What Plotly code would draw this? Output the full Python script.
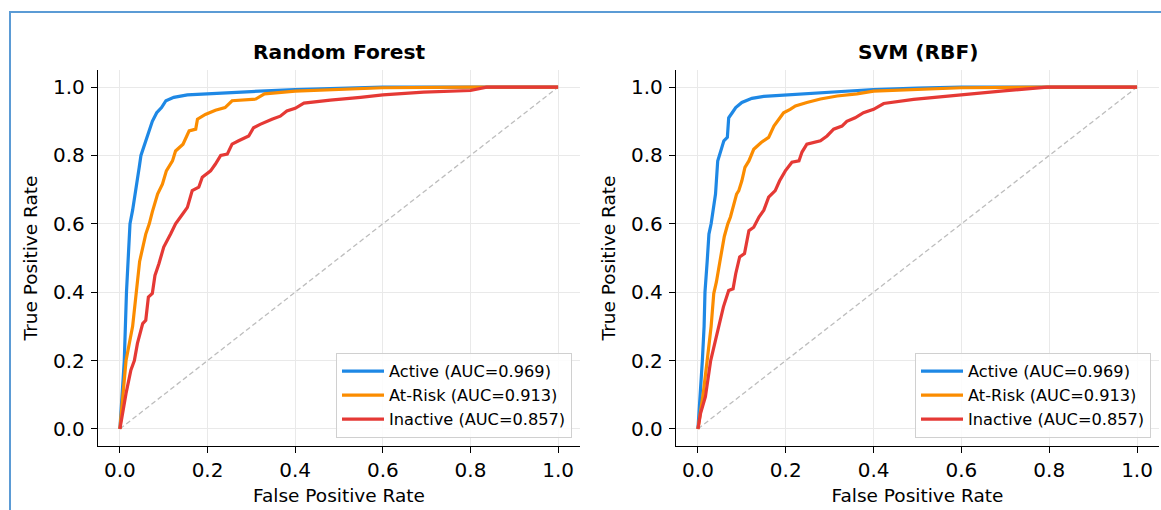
import plotly.graph_objects as go

# ---------------- data ----------------
classes = ["Active", "At-Risk", "Inactive"]
auc_values = [0.969, 0.913, 0.857]
model_titles = ["Random Forest", "SVM (RBF)"]
tick_vals = [0.0, 0.2, 0.4, 0.6, 0.8, 1.0]
tick_labels = ["0.0", "0.2", "0.4", "0.6", "0.8", "1.0"]

rf_active_fpr = [0, 0.01, 0.015, 0.023, 0.029, 0.034, 0.044, 0.048, 0.059, 0.068, 0.074, 0.084, 0.095,
                 0.105, 0.123, 0.154, 0.21, 0.3, 0.4, 0.5, 0.6, 0.8, 1.0]
rf_active_tpr = [0, 0.2, 0.4, 0.6, 0.64, 0.687, 0.765, 0.8, 0.843, 0.88, 0.9, 0.925, 0.94,
                 0.96, 0.97, 0.977, 0.98, 0.987, 0.993, 0.997, 1.0, 1.0, 1.0]

rf_atrisk_fpr = [0, 0.014, 0.029, 0.038, 0.045, 0.059, 0.067, 0.074, 0.086, 0.097, 0.106, 0.12, 0.127,
                 0.144, 0.158, 0.173, 0.177, 0.195, 0.218, 0.24, 0.256, 0.31, 0.33, 0.4, 0.5, 0.6, 0.8, 1.0]
rf_atrisk_tpr = [0, 0.2, 0.3, 0.4, 0.49, 0.57, 0.6, 0.635, 0.687, 0.716, 0.755, 0.784, 0.813,
                 0.833, 0.872, 0.877, 0.906, 0.92, 0.932, 0.94, 0.96, 0.965, 0.98, 0.988, 0.993, 0.998, 1.0, 1.0]

rf_inactive_fpr = [0, 0.014, 0.025, 0.033, 0.04, 0.052, 0.059, 0.065, 0.074, 0.08, 0.089, 0.1, 0.116,
                   0.127, 0.144, 0.154, 0.165, 0.18, 0.188, 0.207, 0.218, 0.23, 0.245, 0.256, 0.271,
                   0.294, 0.305, 0.32, 0.347, 0.366, 0.381, 0.4, 0.42, 0.48, 0.549, 0.6, 0.693, 0.8,
                   0.837, 1.0]
rf_inactive_tpr = [0, 0.104, 0.172, 0.2, 0.25, 0.308, 0.318, 0.386, 0.396, 0.449, 0.483, 0.532, 0.571,
                   0.6, 0.63, 0.648, 0.697, 0.707, 0.736, 0.755, 0.775, 0.8, 0.804, 0.833, 0.843,
                   0.857, 0.881, 0.891, 0.906, 0.915, 0.93, 0.938, 0.953, 0.962, 0.97, 0.977, 0.985, 0.99,
                   1.0, 1.0]

svm_active_fpr = [0, 0.006, 0.01, 0.014, 0.016, 0.021, 0.025, 0.03, 0.04, 0.045, 0.049, 0.059, 0.067,
                  0.07, 0.078, 0.086, 0.1, 0.123, 0.15, 0.195, 0.286, 0.36, 0.4, 0.5, 0.6, 0.8, 1.0]
svm_active_tpr = [0, 0.104, 0.2, 0.3, 0.4, 0.49, 0.57, 0.6, 0.687, 0.784, 0.8, 0.843, 0.853,
                  0.91, 0.925, 0.94, 0.955, 0.967, 0.973, 0.977, 0.983, 0.99, 0.993, 0.997, 1.0, 1.0, 1.0]

svm_atrisk_fpr = [0, 0.012, 0.021, 0.03, 0.036, 0.042, 0.05, 0.06, 0.068, 0.074, 0.088, 0.093, 0.1,
                  0.107, 0.116, 0.127, 0.144, 0.161, 0.173, 0.184, 0.195, 0.21, 0.222, 0.248, 0.279,
                  0.317, 0.362, 0.4, 0.5, 0.6, 0.8, 1.0]
svm_atrisk_tpr = [0, 0.104, 0.2, 0.3, 0.396, 0.43, 0.49, 0.563, 0.6, 0.62, 0.687, 0.697, 0.726,
                  0.765, 0.784, 0.818, 0.838, 0.853, 0.886, 0.906, 0.925, 0.935, 0.945, 0.955, 0.965,
                  0.974, 0.98, 0.988, 0.994, 0.998, 1.0, 1.0]

svm_inactive_fpr = [0, 0.006, 0.017, 0.023, 0.029, 0.04, 0.05, 0.058, 0.07, 0.08, 0.086, 0.095, 0.106,
                    0.116, 0.127, 0.139, 0.15, 0.161, 0.176, 0.186, 0.199, 0.214, 0.23, 0.237, 0.248,
                    0.279, 0.294, 0.309, 0.328, 0.339, 0.358, 0.377, 0.4, 0.423, 0.491, 0.59, 0.696,
                    0.795, 1.0]
svm_inactive_tpr = [0, 0.046, 0.094, 0.153, 0.2, 0.26, 0.318, 0.357, 0.405, 0.41, 0.454, 0.503, 0.513,
                    0.58, 0.59, 0.62, 0.64, 0.678, 0.697, 0.726, 0.755, 0.78, 0.784, 0.81, 0.833,
                    0.843, 0.857, 0.877, 0.886, 0.9, 0.91, 0.925, 0.935, 0.952, 0.964, 0.977, 0.989,
                    1.0, 1.0]

chance_line = [0.0, 1.0]

# ---------------- styling ----------------
colors = ["#1E88E5", "#FB8C00", "#E53935"]
FONT = "DejaVu Sans"
W, H = 1161, 510

curves = [
    [(rf_active_fpr, rf_active_tpr), (rf_atrisk_fpr, rf_atrisk_tpr), (rf_inactive_fpr, rf_inactive_tpr)],
    [(svm_active_fpr, svm_active_tpr), (svm_atrisk_fpr, svm_atrisk_tpr), (svm_inactive_fpr, svm_inactive_tpr)],
]

fig = go.Figure()

for p in range(2):
    xa = "x" if p == 0 else "x2"
    ya = "y" if p == 0 else "y2"
    lg = "legend" if p == 0 else "legend2"
    fig.add_trace(go.Scatter(x=chance_line, y=chance_line, mode="lines", xaxis=xa, yaxis=ya,
                             line=dict(color="#bdbdbd", width=1.3, dash="5px,3px"),
                             showlegend=False, hoverinfo="skip"))
    for c in range(3):
        fx, ty = curves[p][c]
        fig.add_trace(go.Scatter(x=fx, y=ty, mode="lines", xaxis=xa, yaxis=ya,
                                 name=f"{classes[c]} (AUC={auc_values[c]:.3f})",
                                 line=dict(color=colors[c], width=3.2), legend=lg))

axis_common = dict(
    range=[-0.05, 1.05], tickvals=tick_vals, ticktext=tick_labels,
    showline=True, linecolor="black", linewidth=1.3, mirror=False,
    ticks="outside", ticklen=6, tickwidth=1.3, tickcolor="black",
    showgrid=True, gridcolor="#e9e9e9", gridwidth=1, zeroline=False,
    tickfont=dict(family=FONT, size=20, color="black"),
    fixedrange=True,
)

xd1 = [98 / W, 580 / W]
xd2 = [676 / W, 1159 / W]
yd = [1 - 446 / H, 1 - 70 / H]

lab_font = dict(size=18.5)

fig.update_layout(
    width=W, height=H,
    margin=dict(l=0, r=0, t=0, b=0),
    paper_bgcolor="white", plot_bgcolor="white",
    font=dict(family=FONT, color="black"),
    xaxis=dict(domain=xd1, anchor="y", title=dict(text="False Positive Rate",
               font=lab_font, standoff=7), **axis_common),
    yaxis=dict(domain=yd, anchor="x", ticklabelstandoff=2,
               title=dict(text="True Positive Rate", font=lab_font, standoff=10), **axis_common),
    xaxis2=dict(domain=xd2, anchor="y2", title=dict(text="False Positive Rate",
                font=lab_font, standoff=7), **axis_common),
    yaxis2=dict(domain=yd, anchor="x2", ticklabelstandoff=2,
                title=dict(text="True Positive Rate", font=lab_font, standoff=10), **axis_common),
    legend=dict(x=572 / W, y=1 - 438 / H, xanchor="right", yanchor="bottom",
                bgcolor="rgba(255,255,255,0.85)", bordercolor="#d0d0d0", borderwidth=1,
                font=dict(family=FONT, size=16.2, color="black"), tracegroupgap=0,
                itemwidth=42),
    legend2=dict(x=1151 / W, y=1 - 438 / H, xanchor="right", yanchor="bottom",
                 bgcolor="rgba(255,255,255,0.85)", bordercolor="#d0d0d0", borderwidth=1,
                 font=dict(family=FONT, size=16.2, color="black"), tracegroupgap=0,
                 itemwidth=42),
    showlegend=True,
)

for p, t in enumerate(model_titles):
    dom = xd1 if p == 0 else xd2
    fig.add_annotation(text=f"<b>{t}</b>", xref="paper", yref="paper",
                       x=(dom[0] + dom[1]) / 2, y=1 - 52 / H, xanchor="center", yanchor="middle",
                       showarrow=False, font=dict(family=FONT, size=20.2, color="black"))

# outer frame seen in the reference
fig.add_shape(type="rect", xref="paper", yref="paper",
              x0=10 / W, x1=1.01, y0=-0.02, y1=1 - 12 / H,
              line=dict(color="#5B9BD5", width=2), fillcolor="rgba(0,0,0,0)", layer="below")

fig.write_html("out.html", config={"displayModeBar": False})
